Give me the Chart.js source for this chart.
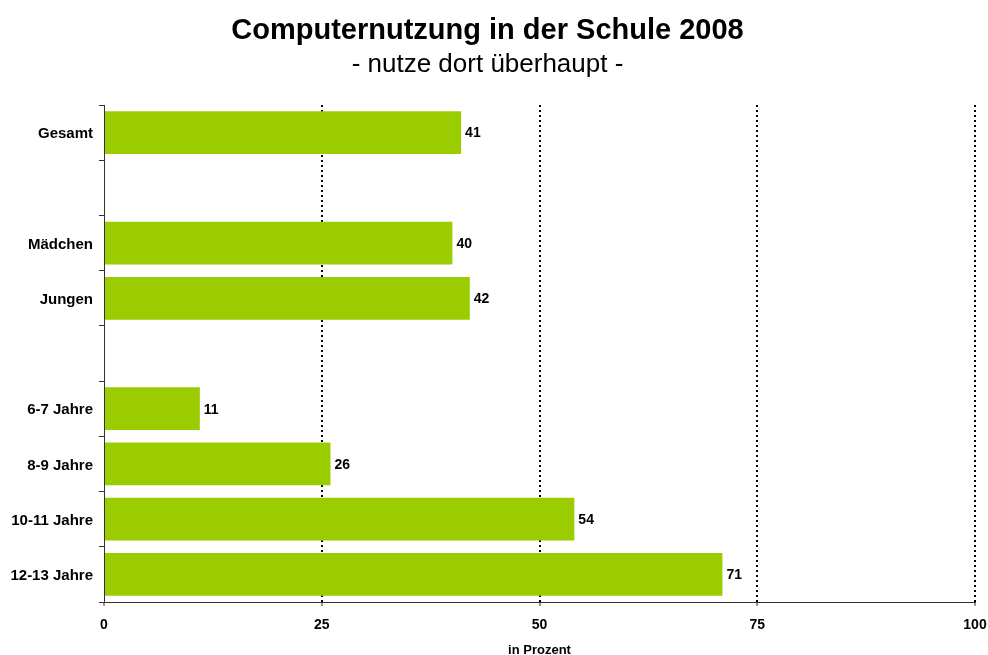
<!DOCTYPE html>
<html>
<head>
<meta charset="utf-8">
<title>Computernutzung in der Schule 2008</title>
<script src="https://cdn.jsdelivr.net/npm/chart.js@4/dist/chart.umd.min.js"></script>
<style>
  html, body { margin: 0; padding: 0; background: #fff; }
  #wrap { width: 988px; height: 655px; }
</style>
</head>
<body>
<div id="wrap"><canvas id="chart"></canvas></div>
<script>
// Kategorien (leere Einträge = Abstand zwischen den Gruppen)
var kategorien = ["Gesamt", "", "Mädchen", "Jungen", "", "6-7 Jahre", "8-9 Jahre", "10-11 Jahre", "12-13 Jahre"];
var werte = [41, null, 40, 42, null, 11, 26, 54, 71];
var xTicks = [0, 25, 50, 75, 100];

var gruen = "#9acc00";
Chart.defaults.font.family = 'Arial, "Liberation Sans", sans-serif';
Chart.defaults.color = "#000";

// Werte rechts neben die Balken schreiben
var wertLabels = {
    id: "wertLabels",
    afterDatasetsDraw: function (chart) {
        var ctx = chart.ctx;
        var meta = chart.getDatasetMeta(0);
        ctx.save();
        ctx.font = "bold 14px Arial, 'Liberation Sans', sans-serif";
        ctx.fillStyle = "#000";
        ctx.textAlign = "left";
        ctx.textBaseline = "middle";
        meta.data.forEach(function (bar, i) {
            if (werte[i] == null) return;
            var p = bar.getProps(["x", "y"], true);
            ctx.fillText(String(werte[i]), p.x + 4, p.y + 1);
        });
        ctx.restore();
    }
};

new Chart(document.getElementById("chart"), {
    type: "bar",
    data: {
        labels: kategorien,
        datasets: [{
            data: werte,
            backgroundColor: gruen,
            borderWidth: 0,
            barPercentage: 0.775,
            categoryPercentage: 1
        }]
    },
    options: {
        indexAxis: "y",
        responsive: true,
        maintainAspectRatio: false,
        animation: false,
        layout: { padding: { left: 0, right: 13, top: 0, bottom: 0 } },
        plugins: {
            legend: { display: false },
            tooltip: { enabled: false },
            title: {
                display: true,
                text: "Computernutzung in der Schule 2008",
                font: { size: 29, weight: "bold" },
                color: "#000",
                padding: { top: 14, bottom: 0 }
            },
            subtitle: {
                display: true,
                text: "- nutze dort überhaupt -",
                font: { size: 26, weight: "normal" },
                color: "#000",
                padding: { top: 0, bottom: 25 }
            }
        },
        scales: {
            x: {
                type: "linear",
                min: 0,
                max: 100,
                afterBuildTicks: function (scale) {
                    scale.ticks = xTicks.map(function (v) { return { value: v }; });
                },
                afterFit: function (scale) {
                    scale.height = 53;
                    scale.paddingLeft = 0;
                    scale.paddingRight = 0;
                },
                grid: {
                    color: function (c) { return c.tick && c.tick.value === 0 ? "rgba(0,0,0,0)" : "#000"; },
                    lineWidth: 2,
                    tickColor: "#333",
                    tickWidth: 1,
                    tickBorderDash: [],
                    tickLength: 4
                },
                border: { display: true, color: "#333", width: 1, dash: [2, 3] },
                ticks: {
                    font: { size: 14, weight: "bold" },
                    color: "#000",
                    padding: 11
                },
                title: {
                    display: true,
                    text: "in Prozent",
                    font: { size: 13, weight: "bold", lineHeight: 1 },
                    color: "#000",
                    padding: { top: 0, bottom: -2 }
                }
            },
            y: {
                type: "category",
                afterFit: function (scale) { scale.width = 104; },
                grid: {
                    offset: true,
                    drawOnChartArea: false,
                    tickLength: 5,
                    tickColor: "#333",
                    tickWidth: 1
                },
                border: { display: true, color: "#333", width: 1 },
                ticks: {
                    autoSkip: false,
                    font: { size: 15, weight: "bold" },
                    color: "#000",
                    padding: 6,
                    labelOffset: 1.5
                }
            }
        }
    },
    plugins: [wertLabels]
});
</script>
</body>
</html>
